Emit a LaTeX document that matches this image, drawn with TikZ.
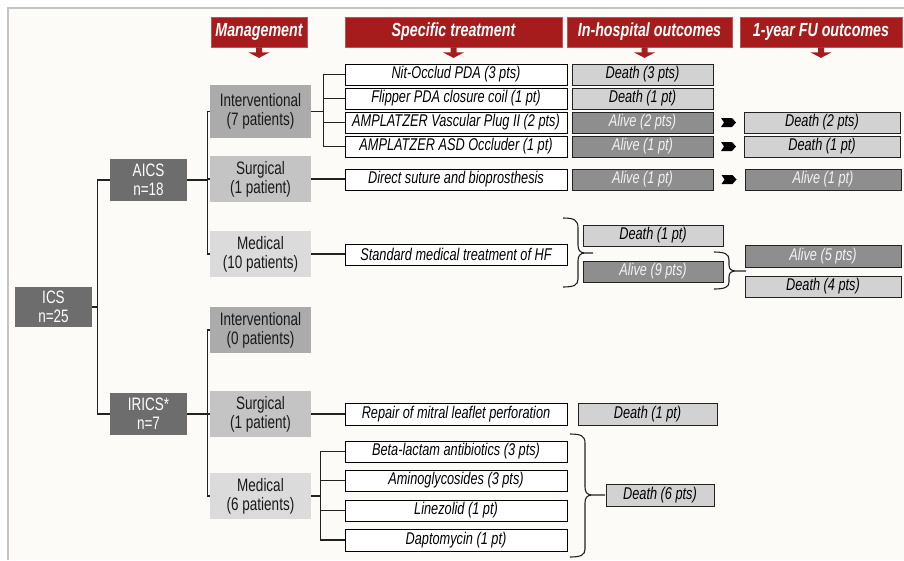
\documentclass[tikz,border=0pt]{standalone}
\usepackage{fontspec}
\setmainfont{Liberation Sans}[FakeStretch=0.75]
\usetikzlibrary{calc}
\definecolor{hdrred}{HTML}{A61C1C}
\definecolor{bgc}{HTML}{FCFBF7}
\definecolor{framec}{HTML}{C4C4C4}
\definecolor{dkgrey}{HTML}{6D6D6D}
\definecolor{mgA}{HTML}{ABABAB}
\definecolor{mgB}{HTML}{C4C4C4}
\definecolor{mgC}{HTML}{DBDBDB}
\definecolor{deathc}{HTML}{D2D2D2}
\definecolor{alivec}{HTML}{8E8E8E}
\definecolor{alivetxt}{HTML}{F2F2F2}
\definecolor{linec}{HTML}{222222}
\newcommand\hdrarrow[1]{\fill[hdrred] (#1) ++(-3,0) -- ++(0,5) -- ++(-7.5,0) -- ++(10.5,5.5) -- ++(10.5,-5.5) -- ++(-7.5,0) -- ++(0,-5) -- cycle;}
\newcommand\chev[1]{\fill[black] (#1) ++(-7.5,-4.5) -- ++(11,0) -- ++(4,4.5) -- ++(-4,4.5) -- ++(-11,0) -- ++(3,-4.5) -- cycle;}
\tikzset{
  hdr/.style={fill=hdrred, draw=hdrred!75!white, line width=0.8pt, text=white,
    font=\fontsize{19}{22}\selectfont\bfseries\itshape, minimum height=30pt, inner sep=0pt},
  grp/.style={fill=dkgrey, text=white, align=center, font=\fontsize{18}{19}\selectfont,
    inner sep=0pt, minimum width=77pt, minimum height=41pt},
  mg/.style={align=center, font=\fontsize{18}{19}\selectfont, inner sep=0pt,
    minimum width=101pt, minimum height=46pt, text=black!90},
  tr/.style={draw=black, fill=white, line width=1pt, font=\fontsize{17}{19}\selectfont\itshape,
    inner sep=0pt, minimum width=222pt, minimum height=21pt},
  death/.style={draw=linec, fill=deathc, line width=1pt, font=\fontsize{17}{19}\selectfont\itshape,
    inner sep=0pt, minimum height=21pt},
  alive/.style={death, fill=alivec, text=alivetxt},
  link/.style={draw=linec, line width=1.3pt},
}
\begin{document}
\begin{tikzpicture}[x=1pt, y=-1pt]
\useasboundingbox (0,0) rectangle (904,560);
\fill[white] (0,0) rectangle (904,560);
\fill[bgc] (8,8) rectangle (904,560);
\draw[framec, line width=1.6pt] (8,560) -- (8,8) -- (904,8);

% headers
\node[hdr, minimum width=96pt] (hM) at (259,32) {Management};
\node[hdr, minimum width=217pt] (hS) at (453.5,32) {Specific treatment};
\node[hdr, minimum width=165pt] (hI) at (649.5,32) {In-hospital outcomes};
\node[hdr, minimum width=162pt] (hF) at (821,32) {1-year FU outcomes};
\hdrarrow{hM.south}
\hdrarrow{hS.south}
\hdrarrow{$(hI.south)+(-5,0)$}
\hdrarrow{hF.south}

% groups
\node[grp, minimum height=40pt] (ics) at (53.5,307) {ICS\\n=25};
\node[grp, minimum height=42pt] (aics) at (148.5,180) {AICS\\n=18};
\node[grp, minimum height=42pt] (irics) at (148.5,414) {IRICS*\\n=7};

% management
\node[mg, fill=mgA, minimum height=53pt] (aI) at (260.5,111.5) {Interventional\\(7 patients)};
\node[mg, fill=mgB] (aS) at (260.5,179) {Surgical\\(1 patient)};
\node[mg, fill=mgC] (aM) at (260.5,254) {Medical\\(10 patients)};
\node[mg, fill=mgA] (iI) at (260.5,330) {Interventional\\(0 patients)};
\node[mg, fill=mgB] (iS) at (260.5,414) {Surgical\\(1 patient)};
\node[mg, fill=mgC] (iM) at (260.5,496) {Medical\\(6 patients)};

% treatments
\node[tr] (t1) at (456,74.5) {Nit-Occlud PDA (3 pts)};
\node[tr] (t2) at (456,98.5) {Flipper PDA closure coil (1 pt)};
\node[tr] (t3) at (456,122.5) {AMPLATZER Vascular Plug II (2 pts)};
\node[tr] (t4) at (456,146.5) {AMPLATZER ASD Occluder (1 pt)};
\node[tr] (t5) at (456,179.5) {Direct suture and bioprosthesis};
\node[tr] (t6) at (456,254.5) {Standard medical treatment of HF};
\node[tr, minimum height=22pt] (t7) at (456,414) {Repair of mitral leaflet perforation};
\node[tr] (t8) at (456,451.5) {Beta-lactam antibiotics (3 pts)};
\node[tr] (t9) at (456,480.5) {Aminoglycosides (3 pts)};
\node[tr] (t10) at (456,510.5) {Linezolid (1 pt)};
\node[tr, minimum height=22pt] (t11) at (456,540) {Daptomycin (1 pt)};

% in-hospital outcomes
\node[death, minimum width=141pt] (o1) at (642.5,74.5) {Death (3 pts)};
\node[death, minimum width=141pt] (o2) at (642.5,98.5) {Death (1 pt)};
\node[alive, minimum width=141pt] (o3) at (642.5,122.5) {Alive (2 pts)};
\node[alive, minimum width=141pt] (o4) at (642.5,146.5) {Alive (1 pt)};
\node[alive, minimum width=141pt] (o5) at (642.5,179.5) {Alive (1 pt)};
\node[death, minimum width=140pt] (o6) at (653,235.5) {Death (1 pt)};
\node[alive, minimum width=140pt] (o7) at (653,271.5) {Alive (9 pts)};
\node[death, minimum width=139pt, minimum height=22pt] (o8) at (647.5,414) {Death (1 pt)};
\node[death, minimum width=108pt, minimum height=22pt] (o9) at (660,495) {Death (6 pts)};

% 1-year outcomes
\node[death, minimum width=156pt] (f1) at (822,122.5) {Death (2 pts)};
\node[death, minimum width=156pt] (f2) at (822,146.5) {Death (1 pt)};
\node[alive, minimum width=156pt] (f3) at (823,179.5) {Alive (1 pt)};
\node[alive, minimum width=156pt, minimum height=22pt] (f4) at (823,256) {Alive (5 pts)};
\node[death, minimum width=156pt] (f5) at (823,286.5) {Death (4 pts)};

% chevrons
\chev{$(o3.east)!0.5!(f1.west)$}
\chev{$(o4.east)!0.5!(f2.west)$}
\chev{$(o5.east)!0.5!(f3.west)$}

% tree connectors
\draw[link] (ics.east) -- ++(5,0) |- (aics.west);
\draw[link] (ics.east) -- ++(5,0) |- (irics.west);
\draw[link] (aics.east) -- ++(20,0) |- (aI.west);
\draw[link] (aics.east) -- ++(20,0) |- (aS.west);
\draw[link] (aics.east) -- ++(20,0) |- (aM.west);
\draw[link] (irics.east) -- ++(20,0) |- (iI.west);
\draw[link] (irics.east) -- ++(20,0) |- (iS.west);
\draw[link] (irics.east) -- ++(20,0) |- (iM.west);
\foreach \t in {t1,t2,t3,t4}{\draw[link] (aI.east) -- ++(12,0) |- (\t.west);}
\draw[link] (aS.east) -- (aS.east -| t5.west);
\draw[link] (aM.east) -- (aM.east -| t6.west);
\draw[link] (iS.east) -- (iS.east -| t7.west);
\foreach \t in {t8,t9,t10,t11}{\draw[link] (iM.east) -- ++(9,0) |- (\t.west);}

% braces
\draw[link, line width=1.1pt] (563,218) .. controls (574,218) and (578,220) .. (578,228) -- (578,245)
  .. controls (578,250) and (580,253) .. (585,253) -- (593,253)
  (585,253) .. controls (580,253) and (578,256) .. (578,261) -- (578,279)
  .. controls (578,285) and (574,287) .. (563,287);
\draw[link, line width=1.1pt] (714,252) .. controls (725,252) and (729,254) .. (729,260) -- (729,265)
  .. controls (729,269) and (731,271) .. (736,271) -- (746,271)
  (736,271) .. controls (731,271) and (729,273) .. (729,277) -- (729,282)
  .. controls (729,287) and (725,289) .. (714,289);
\draw[link, line width=1.1pt] (570,434) .. controls (581,434) and (585,436) .. (585,443) -- (585,487)
  .. controls (585,492) and (587,495) .. (592,495) -- (605,495)
  (592,495) .. controls (587,495) and (585,498) .. (585,503) -- (585,549)
  .. controls (585,555) and (581,557) .. (570,557);
\end{tikzpicture}
\end{document}
